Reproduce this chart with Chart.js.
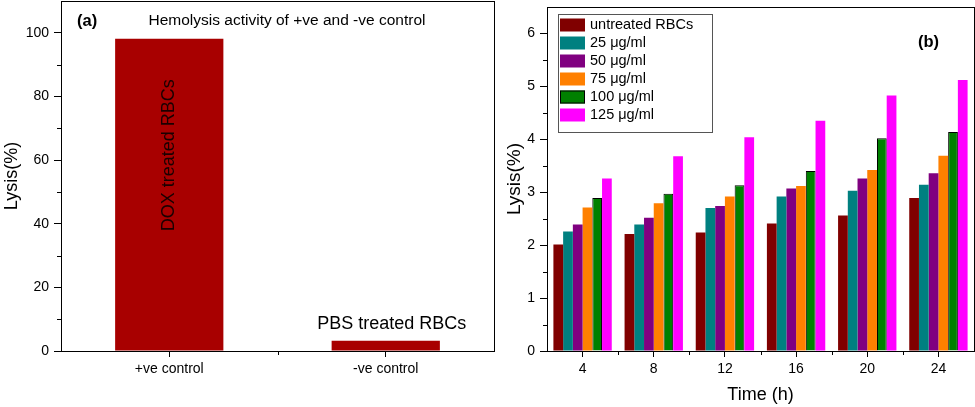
<!DOCTYPE html>
<html>
<head>
<meta charset="utf-8">
<script src="https://cdn.jsdelivr.net/npm/chart.js@4.4.0/dist/chart.umd.min.js"></script>
<style>
	body { margin: 0; background: #fff; width: 975px; height: 407px; overflow: hidden; position: relative; }
	canvas { position: absolute; top: 0; }
	#chartA { left: 0; }
	#chartB { left: 497px; }
</style>
</head>
<body>
<canvas id="chartA" width="497" height="407"></canvas>
<canvas id="chartB" width="478" height="407"></canvas>
<script>
// panel (a) : +ve / -ve control
var controlLabels = ['+ve control', '-ve control'];
var controlLysis = [98.1, 3.2];
var controlNotes = ['DOX treated RBCs', 'PBS treated RBCs'];

// panel (b) : lysis vs time for each dose
var timeLabels = ['4', '8', '12', '16', '20', '24'];
var doseLabels = ['untreated RBCs', '25 μg/ml', '50 μg/ml', '75 μg/ml', '100 μg/ml', '125 μg/ml'];
var untreated = [2.01, 2.21, 2.24, 2.41, 2.56, 2.89];
var dose25 = [2.26, 2.39, 2.70, 2.92, 3.03, 3.14];
var dose50 = [2.39, 2.52, 2.74, 3.07, 3.26, 3.36];
var dose75 = [2.71, 2.79, 2.92, 3.12, 3.42, 3.69];
var dose100 = [2.89, 2.97, 3.13, 3.40, 4.02, 4.14];
var dose125 = [3.26, 3.68, 4.04, 4.35, 4.83, 5.12];
var doseColors = ['#800000', '#008080', '#800080', '#FF8000', '#008000', '#FF00FF'];

var FONT = "'Liberation Sans', Arial, sans-serif";
Chart.defaults.font.family = FONT;
Chart.defaults.color = '#000';

// box round the plot area + short minor ticks
var framePlugin = {
	id: 'frame',
	afterDraw: function(chart, args, opts) {
		var ctx = chart.ctx;
		var a = chart.chartArea;
		var x = chart.scales.x, y = chart.scales.y;
		ctx.save();
		ctx.strokeStyle = '#000';
		ctx.lineWidth = 1;
		ctx.strokeRect(Math.round(a.left) + 0.5, Math.round(a.top) + 0.5,
			Math.round(a.right - a.left), Math.round(a.bottom - a.top));
		ctx.beginPath();
		opts.xMinor.forEach(function(v) {
			var px = Math.round(x.getPixelForValue(v)) + 0.5;
			ctx.moveTo(px, a.bottom);
			ctx.lineTo(px, a.bottom + 4);
		});
		opts.yMinor.forEach(function(v) {
			var py = Math.round(y.getPixelForValue(v)) + 0.5;
			ctx.moveTo(a.left, py);
			ctx.lineTo(a.left - 4, py);
		});
		ctx.stroke();
		ctx.restore();
	}
};

function keepTicks(step) {
	return function(scale) {
		scale.ticks = scale.ticks.filter(function(t) {
			return Math.abs(t.value / step - Math.round(t.value / step)) < 1e-6;
		});
	};
}

function axisX(titleText) {
	return {
		grid: { display: true, drawOnChartArea: false, offset: false, tickLength: 6, color: '#000', tickWidth: 1 },
		border: { display: false },
		ticks: { font: { size: 14 }, color: '#000', padding: 4 },
		title: { display: !!titleText, text: titleText, font: { size: 18 }, color: '#000', padding: { top: 0, bottom: 1 } },
		afterFit: function(scale) {
			scale.height = 56;
			scale.paddingLeft = 0;
			scale.paddingRight = 0;
		}
	};
}

function axisY(min, max, step, width, titleSize, titlePad) {
	return {
		min: min,
		max: max,
		ticks: { stepSize: step, font: { size: 14 }, color: '#000', padding: 5 },
		afterBuildTicks: keepTicks(step),
		grid: { display: true, drawOnChartArea: false, tickLength: 7, color: '#000', tickWidth: 1 },
		border: { display: false },
		title: { display: true, text: 'Lysis(%)', font: { size: titleSize }, color: '#000', padding: { top: titlePad, bottom: 0 } },
		afterFit: function(scale) {
			scale.width = width;
			scale.paddingTop = 0;
			scale.paddingBottom = 0;
		}
	};
}

// texts for panel (a)
var notesA = {
	id: 'notesA',
	afterDraw: function(chart) {
		var ctx = chart.ctx;
		var a = chart.chartArea;
		var y = chart.scales.y;
		var bars = chart.getDatasetMeta(0).data;
		ctx.save();
		ctx.fillStyle = '#000';
		ctx.textBaseline = 'middle';
		ctx.font = 'bold 16.5px ' + FONT;
		ctx.textAlign = 'left';
		ctx.fillText('(a)', a.left + 16, 21);
		ctx.font = '15.5px ' + FONT;
		ctx.textAlign = 'center';
		ctx.fillText('Hemolysis activity of +ve and -ve control', a.left + 226, 21);

		ctx.font = '18px ' + FONT;
		ctx.fillStyle = '#1a0000';
		ctx.save();
		ctx.translate(bars[0].x, y.getPixelForValue(61.5));
		ctx.rotate(-Math.PI / 2);
		ctx.fillText(controlNotes[0], 0, 0);
		ctx.restore();
		ctx.fillStyle = '#000';
		ctx.fillText(controlNotes[1], bars[1].x + 6, y.getPixelForValue(8.6));
		ctx.restore();
	}
};

// legend box + label for panel (b)
var notesB = {
	id: 'notesB',
	afterDraw: function(chart) {
		var ctx = chart.ctx;
		var a = chart.chartArea;
		var ds = chart.data.datasets;
		var bx = a.left + 11, by = a.top + 7;
		ctx.save();
		ctx.fillStyle = '#fff';
		ctx.fillRect(bx, by, 154, 118);
		ctx.strokeStyle = '#555';
		ctx.lineWidth = 1;
		ctx.strokeRect(bx + 0.5, by + 0.5, 154, 118);
		ctx.font = '14.5px ' + FONT;
		ctx.textAlign = 'left';
		ctx.textBaseline = 'middle';
		ds.forEach(function(d, i) {
			var cy = by + 11 + i * 18;
			ctx.fillStyle = d.backgroundColor;
			ctx.fillRect(bx + 2, cy - 6.5, 25, 13);
			if (d.borderWidth) {
				ctx.strokeStyle = d.borderColor;
				ctx.strokeRect(bx + 2.5, cy - 6, 24, 12);
			}
			ctx.fillStyle = '#000';
			ctx.fillText(d.label, bx + 32, cy);
		});
		ctx.font = 'bold 16.5px ' + FONT;
		ctx.textAlign = 'right';
		ctx.fillText('(b)', a.right - 35, 42);
		ctx.restore();
	}
};

new Chart(document.getElementById('chartA'), {
	type: 'bar',
	data: {
		labels: controlLabels,
		datasets: [{
			data: controlLysis,
			backgroundColor: '#A80000',
			barPercentage: 0.5,
			categoryPercentage: 1
		}]
	},
	options: {
		responsive: false,
		animation: false,
		layout: { padding: { top: 1, right: 3, left: 0, bottom: 0 } },
		plugins: {
			legend: { display: false },
			tooltip: { enabled: false },
			frame: { xMinor: [0.5], yMinor: [10, 30, 50, 70, 90] }
		},
		scales: {
			x: axisX(''),
			y: axisY(0, 110, 20, 61, 18, 1.2)
		}
	},
	plugins: [framePlugin, notesA]
});

var doseSeries = [untreated, dose25, dose50, dose75, dose100, dose125];
var doseDatasets = [];
doseSeries.forEach(function(values, i) {
	doseDatasets.push({
		label: doseLabels[i],
		data: values,
		backgroundColor: doseColors[i],
		borderColor: '#000',
		borderWidth: i == 4 ? 1 : 0,
		barPercentage: 1,
		categoryPercentage: 0.82
	});
});

new Chart(document.getElementById('chartB'), {
	type: 'bar',
	data: { labels: timeLabels, datasets: doseDatasets },
	options: {
		responsive: false,
		animation: false,
		layout: { padding: { top: 7, right: 1, left: 0, bottom: 0 } },
		plugins: {
			legend: { display: false },
			tooltip: { enabled: false },
			frame: { xMinor: [0.5, 1.5, 2.5, 3.5, 4.5], yMinor: [0.5, 1.5, 2.5, 3.5, 4.5, 5.5] }
		},
		scales: {
			x: axisX('Time (h)'),
			y: axisY(0, 6.5, 1, 50, 19, 6.6)
		}
	},
	plugins: [framePlugin, notesB]
});
</script>
</body>
</html>
